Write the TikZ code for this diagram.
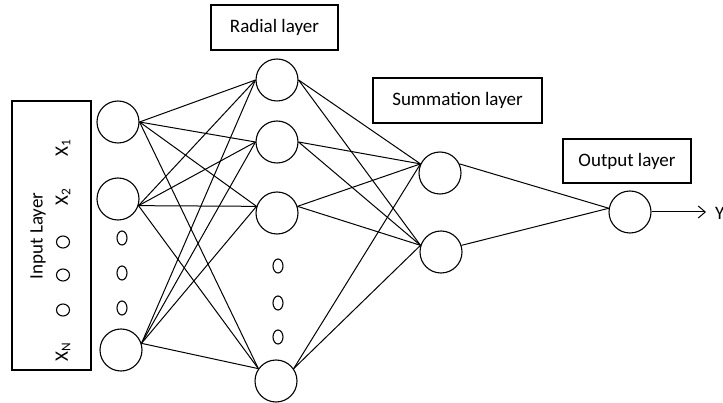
\documentclass[tikz,border=0pt]{standalone}
\usepackage{fontspec}
\setmainfont{Carlito}
\usetikzlibrary{arrows.meta,shapes.geometric}
\begin{document}
\begin{tikzpicture}[x=1pt,y=-1pt,
  neuron/.style={circle,draw,line width=1.1pt,minimum size=42pt,inner sep=0pt},
  lbox/.style={draw,line width=1.1pt,inner sep=0pt,font=\fontsize{19}{21}\selectfont},
  dotv/.style={ellipse,draw,line width=1.1pt,minimum width=10pt,minimum height=14pt,inner sep=0pt},
  doth/.style={ellipse,draw,line width=1.1pt,minimum width=13pt,minimum height=12pt,inner sep=0pt},
  conn/.style={line width=1pt},
  rtext/.style={rotate=90,font=\fontsize{19}{21}\selectfont,inner sep=0pt}]
\useasboundingbox (0,0) rectangle (723,403);
\clip (0,0) rectangle (723,403);
% boxes
\node[lbox,minimum width=79pt,minimum height=269pt] (ibox) at (51.5,235.5) {};
\node[lbox,minimum width=127pt,minimum height=45pt] (rbox) at (274.5,27.5) {Radial layer};
\node[lbox,minimum width=169pt,minimum height=45pt] (sbox) at (457.5,100.5) {Summation layer};
\node[lbox,minimum width=128pt,minimum height=44pt] (obox) at (627,161) {Output layer};
% input box contents
\node[rtext] (il) at (38,236) {Input Layer};
\node[rtext] (x1) at (63,148) {X\textsubscript{1}};
\node[rtext] (x2) at (63,197) {X\textsubscript{2}};
\node[rtext] (xn) at (63,352) {X\textsubscript{N}};
\node[doth] (bo1) at (63,242) {};
\node[doth] (bo2) at (63,275) {};
\node[doth] (bo3) at (63,310) {};
% input neurons
\node[neuron] (I1) at (118,122) {};
\node[neuron] (I2) at (118,199) {};
\node[neuron] (IN) at (121,350) {};
\node[dotv] (io1) at (122,238) {};
\node[dotv] (io2) at (122,273) {};
\node[dotv] (io3) at (122,308) {};
% radial neurons
\node[neuron] (R1) at (277,80) {};
\node[neuron] (R2) at (277,142) {};
\node[neuron] (R3) at (277,213) {};
\node[neuron] (RN) at (276,381) {};
\node[dotv] (ro1) at (278,266) {};
\node[dotv] (ro2) at (278,303) {};
\node[dotv] (ro3) at (278,337) {};
% summation neurons
\node[neuron] (S1) at (440,173) {};
\node[neuron] (S2) at (441,252) {};
% output neuron
\node[neuron] (O) at (630,212) {};
\coordinate (yend) at (706,212);
\node[anchor=west,font=\fontsize{19}{21}\selectfont,inner sep=0pt] (Y) at (715,213) {Y};
% connections input -> radial
\foreach \i/\a in {I1/0,I2/-18,IN/18}{
  \draw[conn] (\i.\a) -- (R1.180);
  \draw[conn] (\i.\a) -- (R2.180);
  \draw[conn] (\i.\a) -- (R3.162);
  \draw[conn] (\i.\a) -- (RN.145);
}
% radial -> summation
\foreach \r/\a in {R1/0,R2/0,R3/18,RN/35}{
  \draw[conn] (\r.\a) -- (S1.155);
  \draw[conn] (\r.\a) -- (S2.162);
}
% summation -> output
\draw[conn] (S1.25) -- (O.170);
\draw[conn] (S2.18) -- (O.170);
\draw[conn,-{Straight Barb[length=7pt,width=12pt]}] (O.east) -- (yend);
\end{tikzpicture}
\end{document}
